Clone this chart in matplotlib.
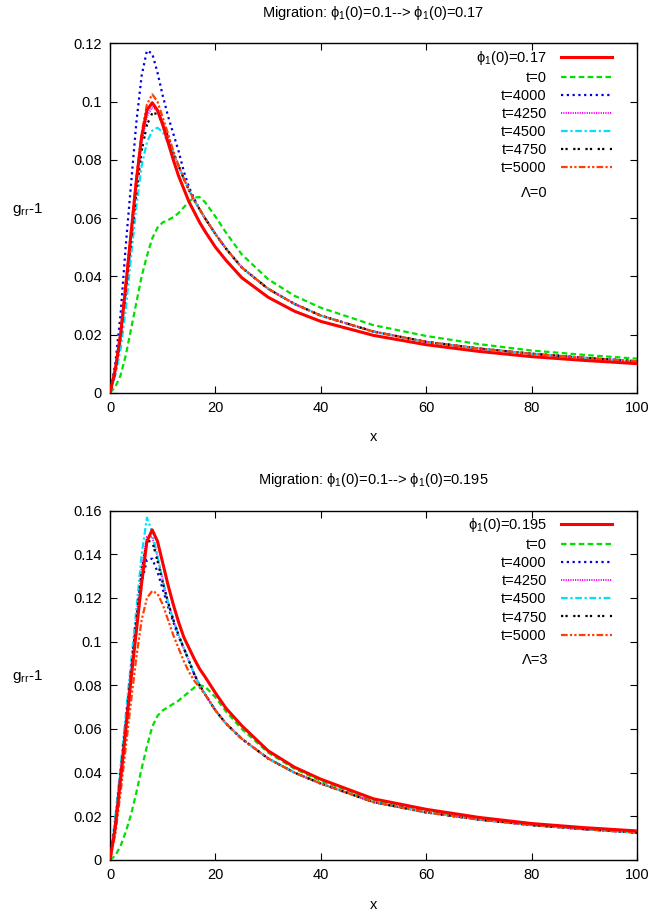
import numpy as np
import matplotlib
matplotlib.use("Agg")
import matplotlib.pyplot as plt

plt.rcParams['font.family'] = ['Liberation Sans', 'DejaVu Sans']
plt.rcParams['mathtext.fontset'] = 'custom'
plt.rcParams['mathtext.rm'] = 'Liberation Sans'
plt.rcParams['mathtext.it'] = 'Liberation Sans:italic'

x = [0, 1, 2, 3, 4, 5, 6, 7, 8, 9, 10, 11, 12, 13, 14, 15, 16, 17, 18,
     20, 22, 25, 30, 35, 40, 50, 60, 70, 80, 90, 100]

# top panel: phi1(0) 0.1 -> 0.17, Lambda = 0
top_final = [0, 0.008, 0.020, 0.037, 0.055, 0.073, 0.088, 0.097, 0.0996, 0.097, 0.092,
             0.086, 0.080, 0.0745, 0.070, 0.0655, 0.062, 0.0585, 0.0555,
             0.0500, 0.0455, 0.0395, 0.0328, 0.028, 0.0245, 0.0197, 0.0165, 0.0142, 0.0124, 0.0111, 0.0100]
top_t0 = [0, 0.002, 0.006, 0.013, 0.022, 0.031, 0.040, 0.047, 0.053, 0.0567, 0.0585,
          0.0593, 0.0603, 0.0617, 0.0637, 0.0657, 0.0670, 0.0672, 0.0655,
          0.0605, 0.0550, 0.0475, 0.0390, 0.0333, 0.0292, 0.0232, 0.0195, 0.0167, 0.0145, 0.0130, 0.0117]
top_t4000 = [0, 0.010, 0.027, 0.051, 0.072, 0.093, 0.109, 0.1175, 0.1165, 0.110, 0.102,
             0.095, 0.089, 0.083, 0.076, 0.0705, 0.0665, 0.063, 0.060,
             0.0545, 0.0495, 0.0430, 0.0357, 0.0305, 0.0265, 0.0210, 0.0175, 0.0152, 0.0134, 0.0120, 0.0108]
top_t4250 = [0, 0.008, 0.020, 0.036, 0.054, 0.071, 0.086, 0.095, 0.098, 0.097, 0.093,
             0.088, 0.0825, 0.078, 0.0735, 0.0695, 0.066, 0.063, 0.060,
             0.0545, 0.0495, 0.0430, 0.0357, 0.0305, 0.0265, 0.0210, 0.0175, 0.0152, 0.0134, 0.0120, 0.0108]
top_t4500 = [0, 0.006, 0.015, 0.029, 0.047, 0.064, 0.078, 0.086, 0.090, 0.091, 0.0895,
             0.086, 0.082, 0.078, 0.0735, 0.0695, 0.066, 0.063, 0.060,
             0.0545, 0.0495, 0.0430, 0.0357, 0.0305, 0.0265, 0.0210, 0.0175, 0.0152, 0.0134, 0.0120, 0.0108]
top_t4750 = [0, 0.007, 0.019, 0.035, 0.052, 0.069, 0.083, 0.092, 0.0960, 0.0958, 0.0925,
             0.088, 0.0825, 0.078, 0.0735, 0.0695, 0.066, 0.063, 0.060,
             0.0545, 0.0495, 0.0430, 0.0357, 0.0305, 0.0265, 0.0210, 0.0175, 0.0152, 0.0134, 0.0120, 0.0108]
top_t5000 = [0, 0.008, 0.021, 0.038, 0.056, 0.074, 0.089, 0.099, 0.1025, 0.100, 0.0945,
             0.089, 0.083, 0.078, 0.0735, 0.0695, 0.066, 0.063, 0.060,
             0.0545, 0.0495, 0.0430, 0.0357, 0.0305, 0.0265, 0.0210, 0.0175, 0.0152, 0.0134, 0.0120, 0.0108]

# bottom panel: phi1(0) 0.1 -> 0.195, Lambda = 3
bot_final = [0, 0.015, 0.037, 0.060, 0.083, 0.105, 0.127, 0.146, 0.1512, 0.146, 0.136,
             0.126, 0.117, 0.109, 0.102, 0.097, 0.092, 0.0875, 0.084,
             0.0765, 0.0695, 0.0615, 0.050, 0.0425, 0.037, 0.028, 0.0232, 0.0195, 0.0167, 0.0148, 0.0133]
bot_t0 = [0, 0.002, 0.0065, 0.013, 0.021, 0.031, 0.042, 0.052, 0.061, 0.066, 0.0685,
          0.070, 0.0715, 0.073, 0.075, 0.077, 0.079, 0.080, 0.0795,
          0.0745, 0.068, 0.060, 0.0492, 0.0418, 0.0362, 0.0276, 0.0226, 0.0190, 0.0164, 0.0146, 0.0133]
bot_t4000 = [0, 0.017, 0.039, 0.062, 0.085, 0.107, 0.127, 0.1375, 0.138, 0.132, 0.124,
             0.116, 0.109, 0.102, 0.097, 0.091, 0.085, 0.080, 0.076,
             0.0685, 0.0625, 0.0555, 0.0465, 0.040, 0.035, 0.0265, 0.0218, 0.0185, 0.0160, 0.0141, 0.0125]
bot_t4250 = [0, 0.018, 0.041, 0.064, 0.088, 0.111, 0.134, 0.148, 0.148, 0.139, 0.128,
             0.118, 0.110, 0.103, 0.097, 0.091, 0.085, 0.080, 0.076,
             0.0685, 0.0625, 0.0555, 0.0465, 0.040, 0.035, 0.0265, 0.0218, 0.0185, 0.0160, 0.0141, 0.0125]
bot_t4500 = [0, 0.020, 0.043, 0.067, 0.091, 0.115, 0.140, 0.1568, 0.150, 0.139, 0.128,
             0.118, 0.110, 0.103, 0.097, 0.091, 0.085, 0.080, 0.076,
             0.0685, 0.0625, 0.0555, 0.0465, 0.040, 0.035, 0.0265, 0.0218, 0.0185, 0.0160, 0.0141, 0.0125]
bot_t4750 = [0, 0.017, 0.040, 0.063, 0.087, 0.110, 0.132, 0.146, 0.146, 0.137, 0.127,
             0.118, 0.110, 0.103, 0.097, 0.091, 0.085, 0.080, 0.076,
             0.0685, 0.0625, 0.0555, 0.0465, 0.040, 0.035, 0.0265, 0.0218, 0.0185, 0.0160, 0.0141, 0.0125]
bot_t5000 = [0, 0.012, 0.031, 0.052, 0.073, 0.093, 0.110, 0.120, 0.1232, 0.122, 0.117,
             0.110, 0.103, 0.097, 0.091, 0.086, 0.082, 0.079, 0.076,
             0.0685, 0.0625, 0.0555, 0.0465, 0.040, 0.035, 0.0265, 0.0218, 0.0185, 0.0160, 0.0141, 0.0125]

top_yticks = [0, 0.02, 0.04, 0.06, 0.08, 0.1, 0.12]
top_ylabels = ['0', '0.02', '0.04', '0.06', '0.08', '0.1', '0.12']
bot_yticks = [0, 0.02, 0.04, 0.06, 0.08, 0.1, 0.12, 0.14, 0.16]
bot_ylabels = ['0', '0.02', '0.04', '0.06', '0.08', '0.1', '0.12', '0.14', '0.16']
xticks = [0, 20, 40, 60, 80, 100]
time_labels = ['t=0', 't=4000', 't=4250', 't=4500', 't=4750', 't=5000']

styles = [
    dict(color='#ff0000', lw=2.2, ls='-'),
    dict(color='#00e000', lw=1.6, ls=(0, (2.5, 1.5))),
    dict(color='#0000e0', lw=1.6, ls=(0, (1, 1.6))),
    dict(color='#ff00ff', lw=1.4, ls=(0, (0.6, 0.6))),
    dict(color='#00e0ff', lw=1.6, ls=(0, (3, 1.2, 1, 1.2))),
    dict(color='#000000', lw=1.6, ls=(0, (1, 1, 1, 2.5))),
    dict(color='#ff4000', lw=1.6, ls=(0, (3, 1, 1, 1, 1, 1))),
]

fig = plt.figure(figsize=(6.67, 9.14), dpi=100)
ax1 = fig.add_axes([0.165, 0.5703, 0.790, 0.3823])
ax2 = fig.add_axes([0.165, 0.0591, 0.790, 0.3822])

panels = [
    (ax1, [top_final, top_t0, top_t4000, top_t4250, top_t4500, top_t4750, top_t5000],
     'ϕ$_1$(0)=0.17', 'Λ=0', 0.12, top_yticks, top_ylabels,
     'Migration: ϕ$_1$(0)=0.1--> ϕ$_1$(0)=0.17'),
    (ax2, [bot_final, bot_t0, bot_t4000, bot_t4250, bot_t4500, bot_t4750, bot_t5000],
     'ϕ$_1$(0)=0.195', 'Λ=3', 0.16, bot_yticks, bot_ylabels,
     'Migration: ϕ$_1$(0)=0.1--> ϕ$_1$(0)=0.195'),
]

for ax, series, final_lab, lam_lab, ymax, yt, ytl, title in panels:
    labels = [final_lab] + time_labels
    handles = []
    for ys, st, lab in zip(series, styles, labels):
        h, = ax.plot(x, ys, label=lab, **st)
        handles.append(h)
    handles[0].set_zorder(3)
    ax.legend(handles, labels, loc='upper right',
              bbox_to_anchor=(0.981, 1.026),
              frameon=False, markerfirst=False, fontsize=10.5,
              handlelength=3.5, handletextpad=1.0, labelspacing=0.28,
              borderaxespad=0.6)
    ax.text(0.831, 0.572, lam_lab, transform=ax.transAxes, ha='right', va='center',
            fontsize=10.5)
    ax.set_xlim(0, 100)
    ax.set_ylim(0, ymax)
    ax.set_xticks(xticks)
    ax.set_xticklabels([str(v) for v in xticks])
    ax.set_yticks(yt)
    ax.set_yticklabels(ytl)
    ax.tick_params(direction='in', top=True, right=True, labelsize=10.5, length=5, pad=6)
    ax.set_xlabel('x', fontsize=10.5, labelpad=11)
    ax.set_ylabel('g$_{\\mathrm{rr}}$-1', fontsize=11, rotation=0)
    ax.yaxis.set_label_coords(-0.157, 0.5)
    ax.set_title(title, fontsize=10.5, pad=19)
    for sp in ax.spines.values():
        sp.set_linewidth(1.0)

fig.savefig('out.png', dpi=100)
